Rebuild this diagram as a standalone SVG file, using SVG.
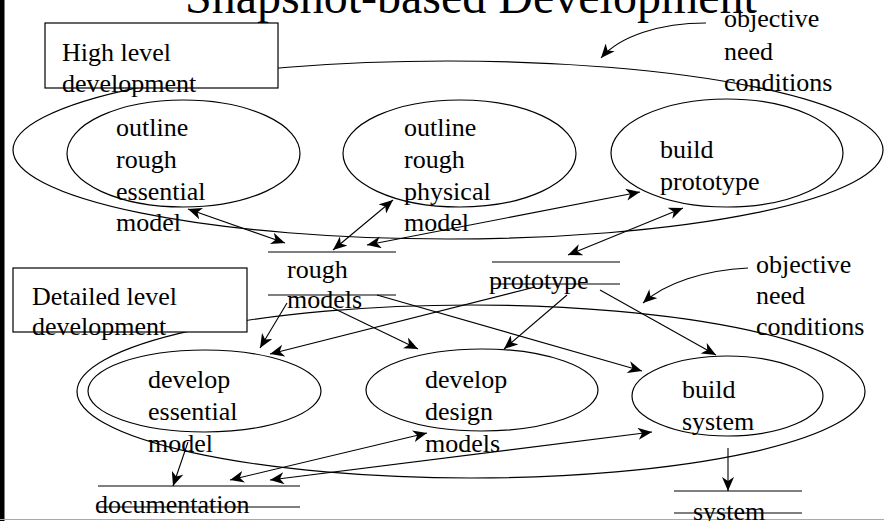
<svg xmlns="http://www.w3.org/2000/svg" width="884" height="521" viewBox="0 0 884 521">
  <style>
    text { font-family: "Liberation Serif", "Times New Roman", serif; font-size: 26px; fill: #000; }
    .title { font-size: 48px; }
    .shape { fill: none; stroke: #000; stroke-width: 1.2; }
    .store { stroke: #000; stroke-width: 1.2; }
    .conn { fill: none; stroke: #000; stroke-width: 1.1; }
    .one { marker-end: url(#ah); }
    .two { marker-start: url(#ah); marker-end: url(#ah); }
  </style>
  <defs>
    <marker id="ah" markerUnits="userSpaceOnUse" viewBox="0 0 14 12" refX="14" refY="6" markerWidth="14" markerHeight="12" orient="auto-start-reverse">
      <path d="M0,0 L14,6 L0,12 L4,6 Z" fill="#000"/>
    </marker>
  </defs>

  <rect x="0" y="0" width="884" height="521" fill="#fff"/>
  <rect x="0" y="0" width="4.5" height="521" fill="#000"/>
  <line x1="0" y1="519.5" x2="884" y2="519.5" stroke="#aaa" stroke-width="1"/>

  <text class="title" x="185" y="13">Snapshot-based Development</text>

  <!-- high level frame -->
  <g id="high-level">
    <ellipse class="shape" cx="448" cy="150" rx="435" ry="89"/>
    <rect x="45" y="23" width="233" height="65" fill="#fff" stroke="#000" stroke-width="1.2"/>
    <text x="62" y="61">High level</text>
    <text x="62" y="92">development</text>
  </g>

  <g id="high-objective">
    <text x="724" y="27">objective</text>
    <text x="724" y="60">need</text>
    <text x="724" y="91">conditions</text>
  </g>

  <g id="outline-essential">
    <ellipse class="shape" cx="183.5" cy="153.5" rx="116.5" ry="53.5"/>
    <text x="116" y="136">outline</text>
    <text x="116" y="168">rough</text>
    <text x="116" y="200">essential</text>
    <text x="116" y="231">model</text>
  </g>

  <g id="outline-physical">
    <ellipse class="shape" cx="459.5" cy="153.5" rx="116.5" ry="53.5"/>
    <text x="404" y="136">outline</text>
    <text x="404" y="168">rough</text>
    <text x="404" y="200">physical</text>
    <text x="404" y="231">model</text>
  </g>

  <g id="build-prototype">
    <ellipse class="shape" cx="727" cy="153" rx="116" ry="54"/>
    <text x="660" y="158">build</text>
    <text x="660" y="190">prototype</text>
  </g>

  <g id="rough-models">
    <line class="store" x1="268" y1="252" x2="396" y2="252"/>
    <line class="store" x1="268" y1="295" x2="396" y2="295"/>
    <text x="287" y="278">rough</text>
    <text x="287" y="308">models</text>
  </g>

  <g id="prototype">
    <line class="store" x1="492" y1="262" x2="620" y2="262"/>
    <line class="store" x1="492" y1="284" x2="620" y2="284"/>
    <text x="489" y="289">prototype</text>
  </g>

  <!-- detailed level frame -->
  <g id="detailed-level">
    <ellipse class="shape" cx="471" cy="391.5" rx="394" ry="86.5"/>
    <rect x="13" y="268" width="234" height="64" fill="#fff" stroke="#000" stroke-width="1.2"/>
    <text x="32" y="305">Detailed level</text>
    <text x="32" y="335">development</text>
  </g>

  <g id="detailed-objective">
    <text x="756" y="273">objective</text>
    <text x="756" y="304">need</text>
    <text x="756" y="335">conditions</text>
  </g>

  <g id="develop-essential">
    <ellipse class="shape" cx="204.5" cy="391" rx="116.5" ry="41"/>
    <text x="148" y="388">develop</text>
    <text x="148" y="420">essential</text>
    <text x="148" y="452">model</text>
  </g>

  <g id="develop-design">
    <ellipse class="shape" cx="482" cy="390" rx="116" ry="41"/>
    <text x="425" y="388">develop</text>
    <text x="425" y="420">design</text>
    <text x="425" y="452">models</text>
  </g>

  <g id="build-system">
    <ellipse class="shape" cx="727.5" cy="396" rx="95.5" ry="40"/>
    <text x="682" y="398">build</text>
    <text x="682" y="430">system</text>
  </g>

  <g id="documentation">
    <line class="store" x1="98" y1="486" x2="300" y2="486"/>
    <line class="store" x1="98" y1="507" x2="300" y2="507"/>
    <text x="95" y="513">documentation</text>
  </g>

  <g id="system">
    <line class="store" x1="674" y1="491" x2="802" y2="491"/>
    <line class="store" x1="674" y1="513" x2="802" y2="513"/>
    <text x="693" y="520">system</text>
  </g>

  <!-- connectors -->
  <g id="connectors">
    <path class="conn one" d="M706,23 C660,23 620,36 601,58"/>
    <path class="conn one" d="M748,268 C705,270 665,283 643,303"/>

    <line class="conn two" x1="188" y1="209" x2="285" y2="243"/>
    <line class="conn two" x1="333" y1="250" x2="393" y2="200"/>
    <line class="conn two" x1="367" y1="245" x2="640" y2="192"/>
    <line class="conn two" x1="568" y1="255" x2="683" y2="208"/>

    <line class="conn one" x1="287" y1="303" x2="260" y2="348"/>
    <line class="conn one" x1="535" y1="287" x2="270" y2="354"/>
    <line class="conn one" x1="333" y1="308" x2="418" y2="349"/>
    <line class="conn one" x1="377" y1="295" x2="642" y2="371"/>
    <line class="conn one" x1="567" y1="295" x2="504" y2="349"/>
    <line class="conn one" x1="600" y1="290" x2="716" y2="355"/>

    <line class="conn two" x1="230" y1="480" x2="427" y2="433"/>
    <line class="conn two" x1="270" y1="480" x2="652" y2="432"/>
    <line class="conn one" x1="188" y1="442" x2="173" y2="486"/>
    <line class="conn one" x1="728" y1="448" x2="728" y2="491"/>
  </g>
</svg>
